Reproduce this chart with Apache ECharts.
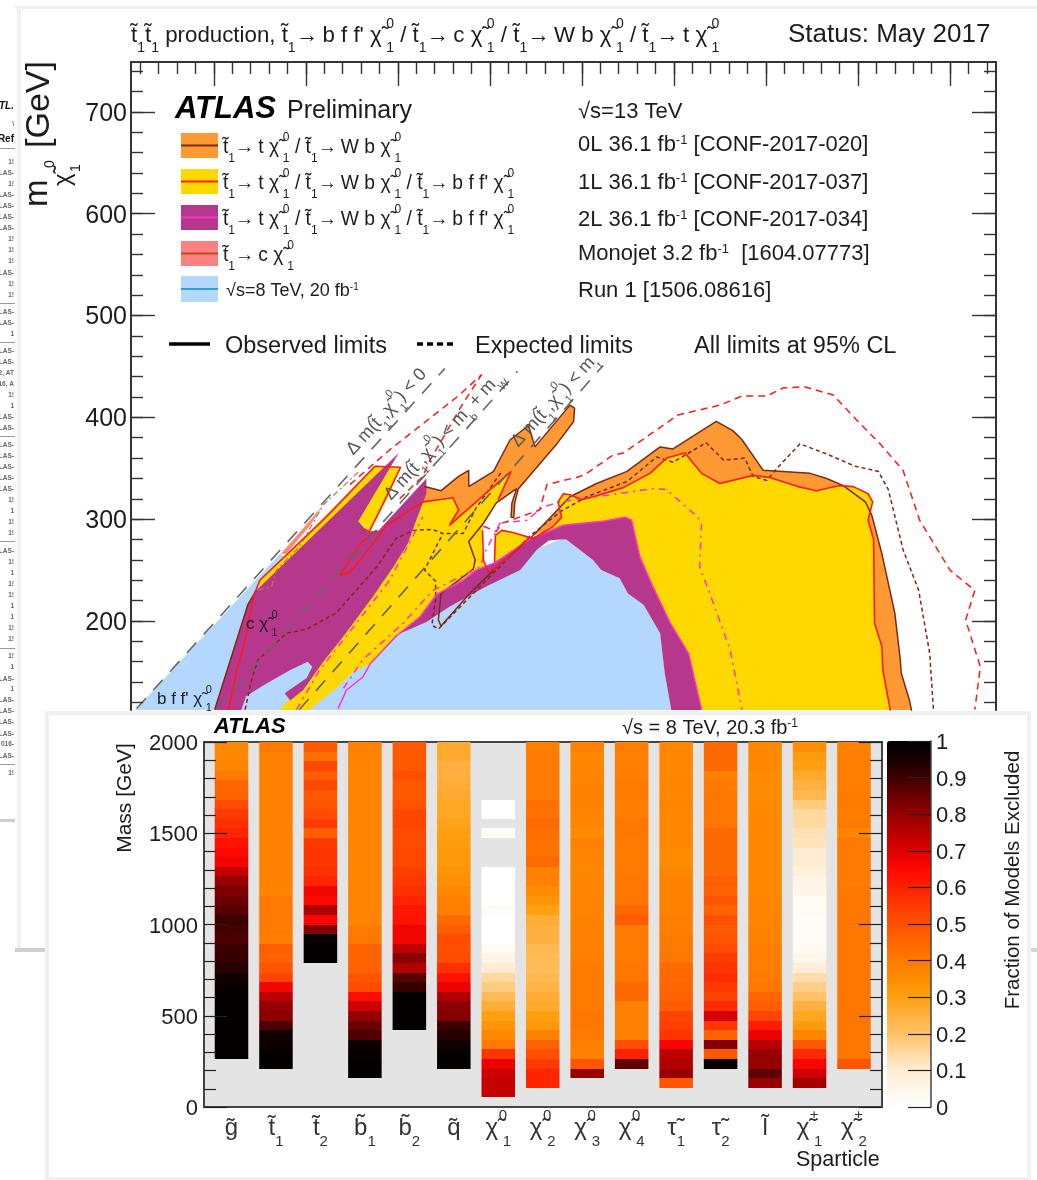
<!DOCTYPE html>
<html><head><meta charset="utf-8">
<style>html,body{margin:0;padding:0;background:#fff}#c{width:1037px;height:1180px}</style>
<script src="https://cdn.jsdelivr.net/npm/echarts@6/dist/echarts.min.js"></script>
</head><body><div id="c"></div>
<script>
// ---------- top plot: m(stop) vs m(LSP), GeV ----------
const run1Fill=[[110,105],[116,114],[272,266],[300,250],[342,181],[402,196],[460,220],[511,242],[532,254],[551,271],[576,280],[583,280],[612,260],[621,250],[641,242],[650,227],[667,216],[685,188],[690,149],[697,113],[697,105]];
const purpleLobe=[[201,113],[237,216],[246,230],[401,365],[357,298],[367,288],[379,289],[431,340],[431,325],[420,299],[411,276],[395,253],[373,224],[341,185],[319,160],[297,132],[283,122],[277,129],[301,144],[307,155],[302,160],[283,152],[254,137],[235,126],[230,113],[225,105],[199,105]];
const purpleBand=[[370,158],[398,185],[424,204],[442,226],[471,240],[485,250],[505,257],[543,280],[580,294],[623,298],[647,302],[654,299],[663,263],[677,234],[696,198],[716,168],[730,113],[732,105],[697,105],[697,113],[690,149],[685,188],[667,216],[650,227],[641,242],[621,250],[612,260],[583,280],[576,280],[564,279],[551,270],[533,250],[496,234],[456,214],[431,199],[398,186]];
const yellowSliver=[[248,237],[375,352],[403,351],[388,319],[369,288],[357,298],[326,286],[254,230]];
const yellowMain=[[268,109],[341,185],[411,276],[427,317],[449,321],[462,320],[466,309],[456,294],[523,347],[507,316],[493,296],[491,273],[494,253],[485,250],[471,240],[442,226],[424,204],[398,185],[370,158],[351,150],[333,134],[304,113],[301,109]];
const yellowRight=[[505,258],[506,284],[513,289],[525,287],[547,281],[569,293],[578,302],[574,317],[580,325],[587,324],[600,319],[616,323],[645,331],[674,345],[692,360],[712,365],[721,355],[730,345],[750,335],[786,343],[804,341],[835,332],[855,328],[880,333],[895,332],[911,325],[916,317],[911,299],[917,280],[918,198],[926,175],[927,152],[935,113],[937,105],[730,105],[715,168],[695,198],[677,234],[662,263],[652,300],[623,297],[576,293],[543,280]];
const orangeSpike=[[427,316],[429,332],[447,328],[466,342],[477,348],[477,332],[504,347],[522,378],[542,392],[549,371],[587,412],[592,409],[591,396],[572,373],[531,330],[527,316],[526,302],[523,302],[524,316],[529,330],[507,316],[493,296],[456,294]];
const orangeRight=[[547,284],[587,322],[616,335],[649,347],[685,371],[699,369],[746,396],[764,387],[774,378],[797,348],[848,345],[866,340],[884,333],[908,317],[915,304],[926,266],[940,208],[946,162],[947,149],[956,122],[958,113],[959,105],[900,105],[900,300],[600,300]];
const salmonSliver=[[273,266],[319,314],[304,293],[279,266]];
const obs0L=[[429,332],[447,328],[466,342],[477,348],[477,332],[504,347],[522,378],[542,392],[549,371],[587,412],[592,409],[591,396],[572,373],[531,330],[527,316],[526,302],[523,302],[524,316],[529,330],[507,316],[493,296],[477,278],[484,260],[482,251],[447,227],[444,201],[447,195],[478,227],[504,250],[547,284],[587,322],[616,335],[649,347],[685,371],[699,369],[746,396],[764,387],[774,378],[797,348],[848,345],[866,340],[884,333],[908,317],[915,304],[926,266],[940,208],[946,162],[947,149],[956,122],[958,113],[959,105]];
const obsLobeEdge=[[201,113],[237,216],[246,230]];
const obs1La=[[216,113],[225,152],[234,181],[243,224],[250,240],[322,302],[375,352],[403,351],[379,306],[369,288],[362,291]];
const obs1Lb=[[377,289],[359,276],[337,245],[348,248],[362,263],[388,294],[427,317],[460,321],[466,309],[456,294],[523,347],[509,319]];
const obs1Lc=[[492,289],[493,260],[498,248],[507,252],[543,282]];
const obs1Ld=[[505,258],[506,284],[513,289],[525,287],[547,281],[569,293],[578,302],[574,317],[580,325],[587,324],[600,319],[616,323],[645,331],[674,345],[692,360],[712,365],[721,355],[730,345],[750,335],[786,343],[804,341],[835,332],[855,328],[880,333],[895,332],[911,325],[916,317],[911,299],[917,280],[918,198],[926,175],[927,152],[935,113],[937,105]];
const exp0La=[[234,113],[241,142],[248,162],[279,188],[301,192],[333,208],[377,253],[398,281],[417,289],[437,290],[449,286],[440,270],[429,250],[441,239],[441,221],[437,196],[444,192],[471,217],[507,250],[543,283],[576,307],[605,322],[649,337],[681,361],[699,356],[735,375],[754,358],[777,360],[786,342],[801,338],[812,350],[837,374],[866,364],[897,352],[922,347],[933,329],[949,270],[966,230],[978,168],[982,113]];
const exp0Lb=[[453,286],[471,286],[485,311],[513,347]];
const exp0Lc=[[248,230],[263,234],[268,250],[293,273],[319,314],[359,348]];
const exp1La=[[348,334],[391,368],[467,422],[491,442]];
const exp1Lb=[[402,320],[427,342],[435,358],[471,414],[491,442]];
const exp1Lc=[[493,293],[507,288],[513,296],[554,309],[562,334],[598,342],[605,345],[634,363],[645,365],[696,397],[703,402],[750,412],[774,421],[801,421],[819,429],[842,430],[873,422],[899,397],[924,374],[949,348],[967,299],[1000,250],[1027,230],[1017,201],[1033,155],[1027,113]];
const obs2L=[[335,114],[344,132],[362,145],[370,158],[398,185],[424,204],[442,226],[471,240],[485,250],[505,257],[543,280],[580,294],[623,298],[647,302],[654,299],[663,263],[677,234],[696,198],[716,168],[730,113]];
const exp2La=[[290,113],[315,152],[355,198],[391,240],[427,302]];
const exp2Lb=[[341,134],[362,162],[406,198],[438,230],[489,253],[496,270],[511,296],[540,299],[558,312],[576,317],[623,323],[677,330],[692,329],[726,302],[730,296],[728,253],[739,227],[761,172],[774,113]];
const kinLine1=[[116,114],[451,448]];
const kinLine2=[[203,114],[530,445]];
const kinLine3=[[293,113],[623,451]];
const topYTicks=[200,300,400,500,600,700];
const topYMinor=[120,140,160,180,200,220,240,260,280,300,320,340,360,380,400,420,440,460,480,500,520,540,560,580,600,620,640,660,680,700,720,740];
const topXTicks=[200,300,400,500,600,700,800,900,1000];
const topXMinor=[120,140,160,180,200,220,240,260,280,300,320,340,360,380,400,420,440,460,480,500,520,540,560,580,600,620,640,660,680,700,720,740,760,780,800,820,840,860,880,900,920,940,960,980,1000,1020,1040];

// ---------- bottom plot: fraction excluded per row, top row (2000 GeV) first ----------
const CHI='{n|χ̃\u2009}';
const sparticleLabels=['{n|g̃}','{n|t̃}{s|1}','{n|t̃}{s|2}','{n|b̃}{s|1}','{n|b̃}{s|2}','{n|q̃}',CHI+'{p|0}{s|1}',CHI+'{p|0}{s|2}',CHI+'{p|0}{s|3}',CHI+'{p|0}{s|4}','{n|τ̃}{s|1}','{n|τ̃}{s|2}','{n|l̃}',CHI+'{p|±}{s|1}',CHI+'{p|±}{s|2}'];
const gluino=[.36,.36,.37,.40,.45,.46,.51,.55,.57,.59,.63,.65,.67,.73,.80,.83,.85,.87,.90,.89,.88,.90,.91,.93,.96,.98,.99,.99,.99,.99,.99,.99,.99];
const stop1=[.40,.38,.38,.38,.38,.38,.38,.38,.38,.38,.38,.38,.38,.38,.38,.37,.40,.40,.40,.40,.39,.47,.46,.49,.53,.67,.74,.80,.81,.88,.96,.97,.99,.99];
const stop2=[.48,.43,.52,.47,.52,.48,.49,.51,.55,.47,.55,.56,.56,.57,.59,.67,.65,.76,.66,.82,.98,.99,.99];
const sbottom1=[.38,.37,.37,.37,.37,.37,.37,.37,.37,.37,.37,.37,.37,.37,.37,.37,.37,.37,.37,.40,.41,.46,.46,.46,.49,.51,.64,.72,.80,.85,.88,.97,.98,.99,.99];
const sbottom2=[.48,.48,.48,.50,.48,.48,.49,.52,.52,.51,.51,.52,.52,.54,.55,.57,.59,.62,.63,.67,.67,.74,.81,.76,.87,.91,.99,.99,.99,.99];
const squark=[.27,.27,.25,.25,.26,.27,.28,.28,.29,.30,.31,.32,.32,.33,.34,.36,.38,.39,.44,.47,.51,.50,.51,.57,.63,.68,.76,.81,.82,.90,.93,.96,.99,.99];
const neutralino1=[null,null,null,null,null,null,0,0,null,.02,null,null,null,0,0,0,0,.02,0,0,0,.03,.06,.10,.15,.18,.22,.26,.30,.33,.36,.40,.56,.68,.72,.73,.73];
const neutralino2=[.39,.40,.40,.40,.40,.40,.43,.42,.44,.43,.42,.42,.44,.38,.38,.35,.33,.30,.26,.25,.25,.23,.22,.22,.23,.24,.26,.27,.30,.32,.38,.46,.50,.55,.59,.59];
const neutralino3=[.38,.36,.37,.37,.38,.38,.38,.37,.37,.35,.38,.37,.37,.36,.37,.37,.37,.37,.38,.38,.38,.38,.39,.40,.40,.40,.40,.40,.41,.41,.40,.39,.38,.49,.80];
const neutralino4=[.39,.38,.39,.39,.40,.40,.39,.39,.41,.41,.40,.40,.40,.40,.41,.41,.41,.45,.47,.40,.40,.40,.40,.41,.41,.44,.44,.38,.38,.38,.38,.50,.60,.86];
const stau1=[.36,.36,.36,.36,.37,.36,.37,.36,.36,.36,.36,.35,.35,.36,.38,.38,.38,.38,.39,.39,.40,.40,.41,.44,.44,.45,.46,.47,.53,.54,.56,.66,.74,.76,.80,.49];
const stau2=[.44,.44,.44,.39,.40,.41,.41,.41,.41,.44,.44,.44,.44,.44,.47,.46,.49,.46,.50,.48,.49,.51,.55,.56,.58,.55,.53,.58,.71,.56,.46,.82,.48,.99];
const selectron=[.36,.36,.36,.35,.35,.35,.35,.36,.36,.36,.36,.36,.36,.36,.36,.36,.37,.37,.37,.38,.38,.39,.39,.39,.40,.41,.45,.47,.53,.61,.68,.75,.80,.80,.86,.80];
const chargino1=[.34,.31,.30,.27,.25,.23,.18,.15,.15,.13,.12,.10,.10,.08,.06,.05,.03,.03,.02,.02,.02,.03,.05,.09,.14,.17,.20,.25,.28,.31,.37,.48,.58,.66,.72,.78];
const chargino2=[.38,.39,.39,.39,.39,.40,.40,.39,.40,.37,.40,.40,.40,.40,.40,.41,.41,.41,.41,.41,.41,.41,.41,.41,.41,.41,.41,.41,.41,.41,.41,.41,.41,.49];
const massColumns=[gluino,stop1,stop2,sbottom1,sbottom2,squark,neutralino1,neutralino2,neutralino3,neutralino4,stau1,stau2,selectron,chargino1,chargino2];
const binWidth=2000/38;
const colorStops=['#ffffff','#fff6ea','#ffecd2','#ffd8a0','#ffc266','#ffb040','#ffa010','#ff8c00','#ff7a00','#ff6600','#ff5000','#ff3a00','#ff2000','#ff0800','#dc0000','#b80000','#960000','#6a0000','#3c0000','#180000','#000000'];

// ---------- helpers ----------
const FF='"Liberation Sans",Arial,sans-serif', INK='#1c1c1c';
const R=(size,color)=>{const c=color||INK;return{
 n:{fontSize:size,lineHeight:Math.round(size*1.7),fill:c,color:c,fontFamily:FF},
 s:{fontSize:Math.round(size*.62),verticalAlign:'bottom',fill:c,color:c,fontFamily:FF},
 p:{fontSize:Math.round(size*.62),verticalAlign:'top',width:0,fill:c,color:c,fontFamily:FF},
 u:{fontSize:Math.round(size*.58),verticalAlign:'top',fill:c,color:c,fontFamily:FF}};};
const txt=(x,y,text,size,o)=>{o=o||{};const c=o.color||INK,r=o.rot||0;return{type:'text',x:x+2*Math.sin(r),y:y+2*Math.cos(r),rotation:r,z:50,silent:true,style:{text,fontSize:size,fontFamily:o.family||FF,fontWeight:o.weight||'normal',fontStyle:o.style||'normal',fill:c,align:o.align||'left',textAlign:o.align||'left',verticalAlign:'middle',textVerticalAlign:'middle',rich:R(size,c)}};};
const box=(x,y,w,h,fill,z)=>({type:'rect',z:z===undefined?-5:z,silent:true,shape:{x,y,width:w,height:h},style:{fill}});
const seg=(x1,x2,y,stroke,w,dash)=>({type:'line',z:50,silent:true,shape:{x1,y1:y,x2,y2:y},style:{stroke,lineWidth:w,lineDash:dash||null}});
const T1='{n|t̃}{s|1}', X1=CHI+'{p|0}{s|1}', AR='→\u2009';
const tickLab=(size,margin,extra)=>Object.assign({show:true,fontSize:size,color:INK,fontFamily:FF,margin,formatter:v=>'{a|'+v+'}',rich:{a:{fontSize:size,color:INK,fontFamily:FF,padding:[4,0,0,0]}}},extra||{});

// ---------- series ----------
const poly=(points,fill,z)=>({type:'custom',coordinateSystem:'cartesian2d',xAxisIndex:0,yAxisIndex:0,clip:true,silent:true,z,data:points,encode:{x:0,y:1},
 renderItem(p,api){if(p.dataIndex!==0)return null;return{type:'polygon',shape:{points:points.map(q=>api.coord(q))},style:{fill}};}});
const contour=(data,color,w,dash,z)=>({type:'line',xAxisIndex:0,yAxisIndex:0,data,showSymbol:false,symbol:'none',silent:true,z:z||4,clip:true,lineStyle:{color,width:w,type:dash||'solid',cap:'butt'}});
const BROWN='#7a2a14',RED='#ff1a1a',MAG='#ff33cc',GREY='#666666';
const series=[
 poly(run1Fill,'#b3d7fd',2),poly(orangeSpike,'#ff9933',2),poly(orangeRight,'#ff9933',2),poly(salmonSliver,'#ff8a70',2),
 poly(yellowSliver,'#ffd800',2),poly(yellowMain,'#ffd800',2),poly(yellowRight,'#ffd800',2),
 poly(purpleLobe,'#b5388c',2),poly(purpleBand,'#b5388c',2),
 contour(obs0L,BROWN,1.5),contour(obsLobeEdge,BROWN,1.5),
 contour(exp0La,BROWN,1.5,[4,3]),contour(exp0Lb,BROWN,1.5,[4,3]),contour(exp0Lc,'#b87a50',1.2,[6,3,2,3]),
 contour(obs2L,MAG,1.5),contour(exp2La,MAG,1.5,[7,5,2,5]),contour(exp2Lb,MAG,1.5,[7,5,2,5]),
 contour(obs1La,RED,1.6),contour(obs1Lb,RED,1.6),contour(obs1Lc,RED,1.6),contour(obs1Ld,RED,1.6),
 contour(exp1La,RED,1.5,[7,5]),contour(exp1Lb,RED,1.5,[7,5]),contour(exp1Lc,RED,1.5,[7,5]),
 contour(kinLine1,GREY,1.6,[14,11],5),contour(kinLine2,GREY,1.6,[14,11],5),contour(kinLine3,GREY,1.6,[14,11],5)
];
const heatData=[];
massColumns.forEach((col,i)=>col.forEach((v,r)=>{if(v!==null)heatData.push([i,2000-(r+1)*binWidth,2000-r*binWidth,v]);}));
const heatIndex=series.length;
series.push({type:'custom',coordinateSystem:'cartesian2d',xAxisIndex:2,yAxisIndex:4,silent:true,clip:true,z:2,data:heatData,encode:{x:0,y:[1,2]},
 renderItem(p,api){const a=api.coord([api.value(0)-.377,api.value(2)]),b=api.coord([api.value(0)+.377,api.value(1)]);
  const y0=Math.round(a[1]),y1=Math.round(b[1]);
  return{type:'rect',shape:{x:a[0],y:y0,width:b[0]-a[0],height:y1-y0},style:{fill:api.visual('color')}};}});

// ---------- axes ----------
const AX='#333';
const xTop=(vals,len,line)=>({type:'value',gridIndex:0,min:110,max:1050,position:'top',z:6,splitLine:{show:false},axisLabel:{show:false},
 axisLine:{show:line,onZero:false,lineStyle:{color:AX,width:2}},axisTick:{show:true,inside:true,length:len,customValues:vals,lineStyle:{color:AX,width:1.4}}});
const yTop=(vals,len,pos,line,lab)=>({type:'value',gridIndex:0,min:112.6,max:749,position:pos,z:6,splitLine:{show:false},
 axisLabel:lab?tickLab(25,4,{customValues:topYTicks}):{show:false},
 axisLine:{show:line,onZero:false,lineStyle:{color:AX,width:2}},axisTick:{show:true,inside:true,length:len,customValues:vals,lineStyle:{color:AX,width:1.4}}});
const yMass=(pos,lab)=>({type:'value',gridIndex:1,min:0,max:2000,interval:500,position:pos,z:6,splitLine:{show:false},
 axisLabel:lab?tickLab(22,6):{show:false},
 axisLine:{show:true,onZero:false,lineStyle:{color:'#444',width:2}},axisTick:{show:true,inside:true,length:23,lineStyle:{color:'#222',width:1.2}},
 minorTick:{show:true,splitNumber:5,length:12,lineStyle:{color:'#222',width:1.2}}});

const option={
 animation:false,backgroundColor:'#fff',
 grid:[
  {left:131,right:41,top:62,height:648,show:false},
  {left:204,width:678,top:742,height:365,show:true,backgroundColor:'#e4e4e4',borderColor:'#444',borderWidth:2},
  {left:887,width:44,top:741,height:366,show:false}
 ],
 xAxis:[xTop(topXTicks,24,true),xTop(topXMinor,12,false),
  {type:'value',gridIndex:1,min:-.6185,max:14.63,position:'bottom',z:6,splitLine:{show:false},axisLine:{show:true,onZero:false,lineStyle:{color:'#444',width:2}},axisTick:{show:false},
   axisLabel:{show:true,customValues:sparticleLabels.map((_,i)=>i),formatter:v=>sparticleLabels[v],margin:1,rich:R(24,'#333')}},
  {type:'value',gridIndex:2,min:0,max:1,show:false}],
 yAxis:[yTop(topYTicks,24,'left',true,true),yTop(topYMinor,12,'left',false,false),yTop(topYTicks,24,'right',true,false),yTop(topYMinor,12,'right',false,false),
  yMass('left',true),yMass('right',false),
  {type:'value',gridIndex:2,min:0,max:1,interval:.1,position:'right',z:6,splitLine:{show:false},
   axisLine:{show:true,onZero:false,lineStyle:{color:'#444',width:1.5}},axisTick:{show:true,inside:true,length:23,lineStyle:{color:'#222',width:1.2}},
   axisLabel:tickLab(22,5,{formatter:v=>'{a|'+(+v.toFixed(1))+'}'})}],
 visualMap:{type:'continuous',seriesIndex:heatIndex,dimension:3,min:0,max:1,left:887,top:741,itemWidth:44,itemHeight:366,calculable:false,realtime:false,show:true,text:null,padding:0,inRange:{color:colorStops},z:3},
 series,
 graphic:{elements:[
  // page backdrop panels
  box(0,0,1037,1180,'#ffffff',-20),
  box(15,6,1022,3,'#f0f0f0',-10),box(17,6,4,944,'#f0f0f0',-10),box(15,948,30,4,'#cfcfcf',-10),box(0,819,15,3,'#cfcfcf',-10),box(1031,948,6,4,'#d6d6d6',-10),
  box(45,711,986,469,'#f0f0f0',-9),box(49,715,978,462,'#ffffff',-8),
  // clipped neighbouring table
  ...[[106,'TL.',1],[124,'\\',0],[139,'Ref',1],[162,'1!',0],[173,'LAS-',0],[184,'1!',0],[195,'LAS-',0],[206,'LAS-',0],[217,'LAS-',0],[228,'LAS-',0],[239,'1!',0],[250,'1!',0],[261,'1!',0],[273,'LAS-',0],[284,'1!',0],[295,'1!',0],[312,'LAS-',0],[323,'LAS-',0],[334,'1',0],[351,'LAS-',0],[362,'LAS-',0],[373,'2, AT',0],[384,'16, A',0],[395,'1!',0],[406,'1',0],[417,'LAS-',0],[428,'LAS-',0],[445,'LAS-',0],[456,'LAS-',0],[467,'LAS-',0],[478,'LAS-',0],[489,'LAS-',0],[500,'1!',0],[511,'1',0],[522,'1!',0],[533,'1!',0],[551,'LAS-',0],[562,'1!',0],[573,'1',0],[584,'1!',0],[595,'1!',0],[606,'1',0],[617,'1',0],[628,'1!',0],[639,'1!',0],[656,'1!',0],[667,'1',0],[679,'LAS-',0],[689,'1',0],[700,'LAS-',0],[711,'LAS-',0],[722,'LAS-',0],[734,'LAS-',0],[744,'016-',0],[756,'LAS-',0],[773,'1!',0]].map(r=>
    ({type:'text',x:14,y:r[0],z:1,silent:true,style:{text:r[1],fontSize:r[2]?10:6.5,fontWeight:'bold',fontStyle:r[1]==='TL.'?'italic':'normal',fontFamily:FF,fill:r[2]?'#111':'#666',align:'right',verticalAlign:'middle'}})),
  ...[148,303,342,436,541,648,764].map(y=>box(0,y,15,1,'#999',1)),
  // top titles
  txt(131,34,T1+T1+' production, '+T1+AR+'b f f\' '+X1+' / '+T1+AR+'c '+X1+' / '+T1+AR+'W b '+X1+' / '+T1+AR+'t '+X1,22.3),
  txt(788,33,'Status: May 2017',26),
  txt(36,207,'m',33,{rot:Math.PI/2}),txt(38,148,'[GeV]',34,{rot:Math.PI/2}),
  txt(61,186,'χ̃',24,{rot:Math.PI/2}),txt(48,168,'0',14,{rot:Math.PI/2}),txt(74,172,'1',14,{rot:Math.PI/2}),
  txt(175,107,'ATLAS',31,{weight:'bold',style:'italic',color:'#000'}),txt(287,109,'Preliminary',25),
  // legend swatches
  box(181,133,37,25,'#ff9933',40),seg(181,218,145.5,BROWN,1.8),
  box(181,169,37,25,'#ffd800',40),seg(181,218,181.5,RED,1.8),
  box(181,205,37,25,'#b5388c',40),seg(181,218,217.5,MAG,1.8),
  box(181,241,37,25,'#ff8080',40),seg(181,218,253.5,'#b5501e',1.8),
  box(181,276,37,26,'#b3d7fd',40),seg(181,218,289,'#2a9fe0',1.8),
  txt(223,146,T1+AR+'t '+X1+' / '+T1+AR+'W b '+X1,19.3),
  txt(223,182,T1+AR+'t '+X1+' / '+T1+AR+'W b '+X1+' / '+T1+AR+'b f f\' '+X1,19.3),
  txt(223,218,T1+AR+'t '+X1+' / '+T1+AR+'W b '+X1+' / '+T1+AR+'b f f\' '+X1,19.3),
  txt(223,254,T1+AR+'c '+X1,19.3),
  txt(226,289,'√s=8 TeV, 20 fb{u|-1}',18),
  txt(578,110,'√s=13 TeV',22),
  txt(578,143,'0L 36.1 fb{u|-1} [CONF-2017-020]',22),
  txt(578,181,'1L 36.1 fb{u|-1} [CONF-2017-037]',22),
  txt(578,218,'2L 36.1 fb{u|-1} [CONF-2017-034]',22),
  txt(578,252,'Monojet 3.2 fb{u|-1}  [1604.07773]',22),
  txt(578,289,'Run 1 [1506.08616]',22),
  seg(169,210,344,'#000',3.5),txt(225,345,'Observed limits',23.5),
  seg(417,457,344,'#000',3.5,[6,4]),txt(475,345,'Expected limits',23.5),
  txt(694,345,'All limits at 95% CL',23.5),
  // annotations on the plot
  txt(348,451,'Δ m('+T1+','+X1+') < 0',18,{rot:.83,color:'#555'}),
  txt(386,496,'Δ m('+T1+','+X1+') < m{s|b} + m{s|W}',18,{rot:.83,color:'#555'}),
  txt(513,443,'Δ m('+T1+','+X1+') < m{s|t}',18,{rot:.83,color:'#555'}),
  txt(246,622,'c '+X1,17),txt(157,697,'b f f\' '+X1,17),
  // bottom titles
  txt(214,725,'ATLAS',22,{weight:'bold',style:'italic',color:'#000'}),
  txt(622,726,'√s = 8 TeV, 20.3 fb{u|-1}',20),
  txt(123,798,'Mass [GeV]',21,{rot:Math.PI/2,align:'center'}),
  txt(1011,880,'Fraction of Models Excluded',20.5,{rot:Math.PI/2,align:'center'}),
  txt(796,1158,'Sparticle',21.5)
 ]}
};
echarts.init(document.getElementById('c'),null,{renderer:'canvas'}).setOption(option);
</script></body></html>
